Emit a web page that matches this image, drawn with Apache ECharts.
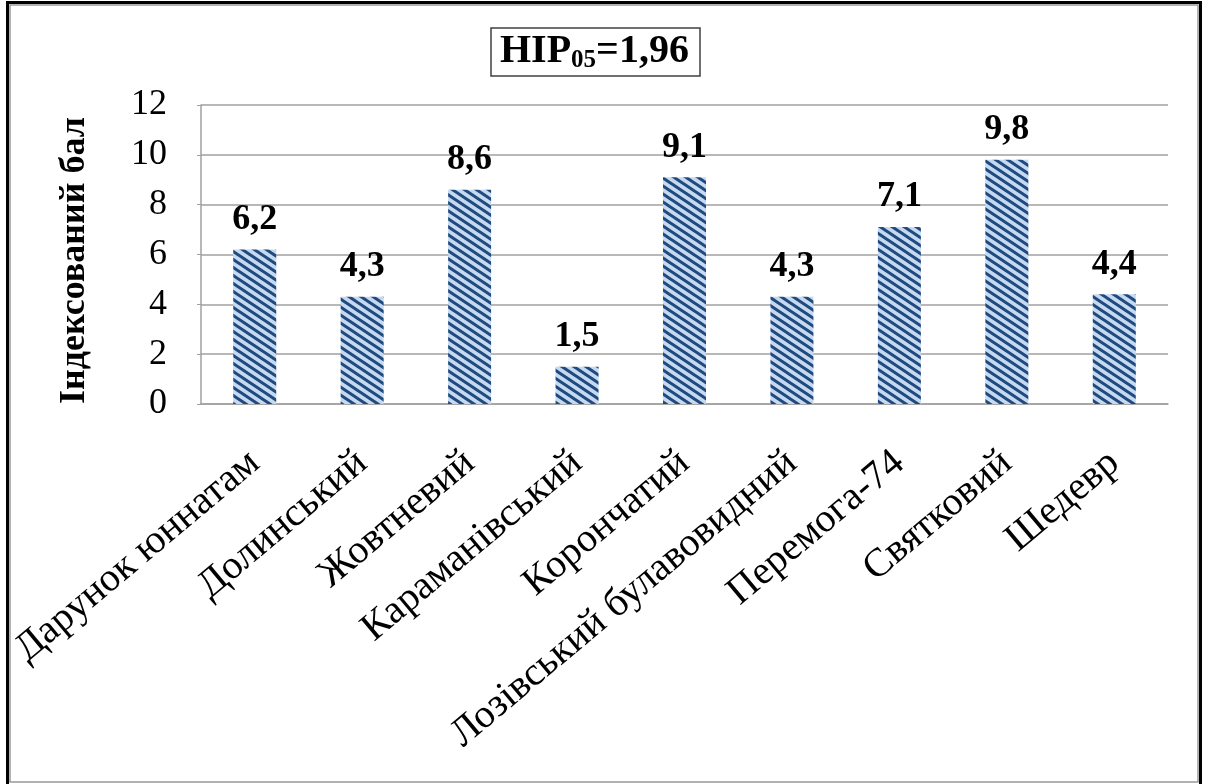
<!DOCTYPE html>
<html>
<head>
<meta charset="utf-8">
<script src="https://cdn.jsdelivr.net/npm/echarts@6/dist/echarts.min.js"></script>
<style>
  html, body { margin: 0; padding: 0; background: #fff; }
  #chart { width: 1206px; height: 784px; }
</style>
</head>
<body>
<div id="chart"></div>
<script>
// Cultivars and their indexed score
const categories = ['Дарунок юннатам', 'Долинський', 'Жовтневий', 'Караманівський', 'Корончатий', 'Лозівський булавовидний', 'Перемога-74', 'Святковий', 'Шедевр'];
const scores = [6.2, 4.3, 8.6, 1.5, 9.1, 4.3, 7.1, 9.8, 4.4];
const yTicks = [0, 2, 4, 6, 8, 10, 12];
const axisTitle = 'Індексований бал';
const lsdLabel = ['НІР', '05', '=1,96'];

// Diagonal hatch fill: dark stripes on light blue
function hatch() {
  const w = 12, h = 8;
  const c = document.createElement('canvas');
  c.width = w; c.height = h;
  const g = c.getContext('2d');
  g.fillStyle = '#c6d9f1';
  g.fillRect(0, 0, w, h);
  g.strokeStyle = '#1f4a7e';
  g.lineWidth = 3.0;
  for (let k = -1; k <= 1; k++) {
    g.beginPath();
    g.moveTo(-w, -h + k * h);
    g.lineTo(2 * w, 2 * h + k * h);
    g.stroke();
  }
  return c;
}

const serif = 'Liberation Serif';
const chart = echarts.init(document.getElementById('chart'), null, { renderer: 'canvas' });

chart.setOption({
  animation: false,
  backgroundColor: '#fff',
  title: {
    text: '{a|' + lsdLabel[0] + '}{b|' + lsdLabel[1] + '}{a|' + lsdLabel[2] + '}',
    left: 491,
    top: 27,
    padding: [4, 11, 3, 9],
    borderColor: '#404040',
    borderWidth: 1.5,
    textStyle: {
      rich: {
        a: { fontFamily: serif, fontWeight: 'bold', fontSize: 40, color: '#000', lineHeight: 42 },
        b: { fontFamily: serif, fontSize: 25, color: '#000', lineHeight: 42, verticalAlign: 'bottom' }
      }
    }
  },
  grid: { left: 201, right: 38, top: 105, bottom: 380, containLabel: false },
  xAxis: {
    type: 'category',
    data: categories,
    axisLine: { lineStyle: { color: '#a0a0a0', width: 1.5 } },
    axisTick: { show: false },
    axisLabel: {
      interval: 0,
      rotate: 40,
      margin: 54,
      fontFamily: serif,
      fontSize: 40,
      color: '#000'
    }
  },
  yAxis: {
    type: 'value',
    min: yTicks[0],
    max: yTicks[yTicks.length - 1],
    interval: 2,
    name: axisTitle,
    nameLocation: 'middle',
    nameGap: 108,
    nameRotate: 90,
    nameTextStyle: { fontFamily: serif, fontWeight: 'bold', fontSize: 36, color: '#000', padding: [0, 12, 0, 0] },
    axisLine: { show: true, lineStyle: { color: '#a0a0a0', width: 1.5 } },
    axisTick: { show: true, length: 4, lineStyle: { color: '#a0a0a0' } },
    splitLine: { lineStyle: { color: '#a0a0a0', width: 1.5 } },
    axisLabel: { fontFamily: serif, fontSize: 36, color: '#000', margin: 34 }
  },
  series: [{
    type: 'bar',
    data: scores,
    barWidth: 43,
    itemStyle: { color: { image: hatch(), repeat: 'repeat' } },
    label: {
      show: true,
      position: 'top',
      distance: 12,
      fontFamily: serif,
      fontWeight: 'bold',
      fontSize: 36,
      color: '#000',
      formatter: p => String(p.value).replace('.', ',')
    }
  }],
  graphic: [
    { type: 'rect', shape: { x: 7.5, y: 2.5, width: 1193, height: 790 }, style: { fill: 'none', stroke: '#000', lineWidth: 3 }, z: 100 },
    { type: 'rect', shape: { x: 10, y: 5, width: 1188, height: 777 }, style: { fill: 'none', stroke: '#999', lineWidth: 1.5 }, z: 100 }
  ]
});
</script>
</body>
</html>
